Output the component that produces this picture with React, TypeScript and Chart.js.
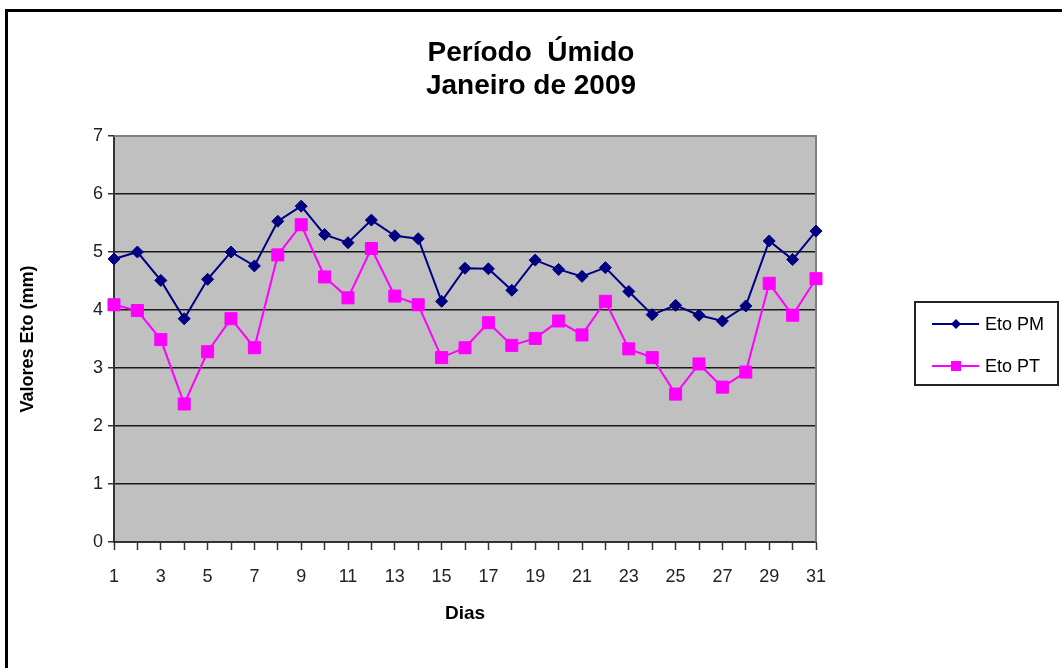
import React, { useEffect, useRef } from 'react';
import { Chart, registerables } from 'chart.js';

Chart.register(...registerables);

const FONT = "'Liberation Sans', Arial, sans-serif";

const days = [
  '1', '2', '3', '4', '5', '6', '7', '8', '9', '10',
  '11', '12', '13', '14', '15', '16', '17', '18', '19', '20',
  '21', '22', '23', '24', '25', '26', '27', '28', '29', '30', '31',
];

const etoPM = [
  4.88, 5.0, 4.51, 3.85, 4.53, 5.0, 4.76, 5.53, 5.79, 5.3,
  5.16, 5.55, 5.28, 5.23, 4.15, 4.72, 4.71, 4.34, 4.86, 4.7,
  4.58, 4.73, 4.32, 3.92, 4.08, 3.91, 3.81, 4.07, 5.19, 4.87, 5.36,
];

const etoPT = [
  4.09, 3.99, 3.49, 2.38, 3.28, 3.85, 3.35, 4.95, 5.47, 4.57,
  4.21, 5.06, 4.24, 4.09, 3.18, 3.35, 3.78, 3.39, 3.51, 3.81,
  3.57, 4.15, 3.33, 3.18, 2.55, 3.07, 2.67, 2.93, 4.46, 3.91, 4.54,
];

const seriesNames = ['Eto PM', 'Eto PT'];
const seriesColors = ['#000080', '#ff00ff'];
const titleLines = ['Período  Úmido', 'Janeiro de 2009'];
const xTitle = 'Dias';
const yTitle = 'Valores Eto (mm)';
const yMin = 0;
const yMax = 7;

export default function App() {
  const ref = useRef<HTMLCanvasElement | null>(null);

  useEffect(() => {
    if (!ref.current) return;
    Chart.defaults.font.family = FONT;

    const framePlugin = {
      id: 'framePlugin',
      beforeDraw(chart: any) {
        const { ctx, chartArea } = chart;
        ctx.save();
        ctx.fillStyle = '#ffffff';
        ctx.fillRect(0, 0, chart.width, chart.height);
        ctx.fillStyle = '#000000';
        ctx.fillRect(5, 9, 3, chart.height - 9);
        ctx.fillRect(5, 9, chart.width - 5, 3);
        ctx.fillStyle = '#c0c0c0';
        ctx.fillRect(chartArea.left, chartArea.top, chartArea.right - chartArea.left, chartArea.bottom - chartArea.top);
        ctx.restore();
      },
      beforeDatasetsDraw(chart: any) {
        const { ctx, chartArea } = chart;
        ctx.save();
        ctx.strokeStyle = '#808080';
        ctx.lineWidth = 2;
        ctx.beginPath();
        ctx.moveTo(chartArea.left, chartArea.top);
        ctx.lineTo(chartArea.right, chartArea.top);
        ctx.lineTo(chartArea.right, chartArea.bottom);
        ctx.stroke();
        ctx.restore();
      },
      afterDraw(chart: any) {
        const { ctx } = chart;
        ctx.save();
        const bx = 915, by = 302, bw = 143, bh = 83;
        ctx.strokeStyle = '#222222';
        ctx.lineWidth = 2;
        ctx.strokeRect(bx, by, bw, bh);
        chart.data.datasets.forEach((ds: any, i: number) => {
          const y = 324 + i * 42;
          ctx.strokeStyle = ds.borderColor;
          ctx.fillStyle = ds.borderColor;
          ctx.lineWidth = 2;
          ctx.beginPath();
          ctx.moveTo(932, y);
          ctx.lineTo(979, y);
          ctx.stroke();
          const cx = 956;
          ctx.beginPath();
          if (ds.pointStyle === 'rectRot') {
            const r = 5;
            ctx.moveTo(cx - r, y);
            ctx.lineTo(cx, y - r);
            ctx.lineTo(cx + r, y);
            ctx.lineTo(cx, y + r);
            ctx.closePath();
          } else {
            ctx.rect(cx - 5, y - 5, 10, 10);
          }
          ctx.fill();
          ctx.fillStyle = '#000000';
          ctx.font = `18px ${FONT}`;
          ctx.textAlign = 'left';
          ctx.textBaseline = 'middle';
          ctx.fillText(ds.label, 985, y + 1);
        });
        ctx.restore();
      },
    };

    const chart = new Chart(ref.current, {
      type: 'line',
      data: {
        labels: days,
        datasets: [
          {
            label: seriesNames[0],
            data: etoPM,
            borderColor: seriesColors[0],
            backgroundColor: seriesColors[0],
            borderWidth: 2,
            pointStyle: 'rectRot',
            pointRadius: 6,
            pointBorderWidth: 1,
            pointBackgroundColor: seriesColors[0],
            pointBorderColor: seriesColors[0],
            tension: 0,
            clip: false,
          } as any,
          {
            label: seriesNames[1],
            data: etoPT,
            borderColor: seriesColors[1],
            backgroundColor: seriesColors[1],
            borderWidth: 2,
            pointStyle: 'rect',
            pointRadius: 8.5,
            pointBorderWidth: 1,
            pointBackgroundColor: seriesColors[1],
            pointBorderColor: seriesColors[1],
            tension: 0,
            clip: false,
          } as any,
        ],
      },
      options: {
        responsive: false,
        animation: false,
        devicePixelRatio: 1,
        layout: { padding: 0 },
        plugins: {
          legend: { display: false },
          tooltip: { enabled: false },
          title: {
            display: true,
            text: titleLines,
            color: '#000000',
            font: { size: 28, weight: 'bold', lineHeight: 1.2, family: FONT },
            padding: { top: 36, bottom: 32.8 },
          },
        },
        scales: {
          x: {
            type: 'category',
            offset: false,
            ticks: {
              autoSkip: false,
              maxRotation: 0,
              minRotation: 0,
              color: '#222222',
              font: { size: 18, family: FONT },
              padding: 16,
              callback: (_v: any, i: number) => (i % 2 === 0 ? days[i] : ''),
            },
            grid: {
              drawOnChartArea: false,
              tickLength: 8,
              tickColor: '#333333',
              tickWidth: 1.5,
              offset: false,
            },
            border: { color: '#333333', width: 2 },
            title: {
              display: true,
              text: xTitle,
              color: '#000000',
              font: { size: 19, weight: 'bold', family: FONT },
              padding: { top: 0, bottom: 42.6 },
            },
            afterFit: (s: any) => {
              s.height = 126;
            },
          } as any,
          y: {
            min: yMin,
            max: yMax,
            ticks: {
              stepSize: 1,
              color: '#222222',
              font: { size: 18, family: FONT },
              padding: 5,
            },
            grid: {
              color: (c: any) => (c.tick && c.tick.value === yMax ? 'rgba(0,0,0,0)' : '#1a1a1a'),
              lineWidth: 1.5,
              tickLength: 6,
              tickColor: '#333333',
              tickWidth: 1.5,
            },
            border: { color: '#333333', width: 2 },
            title: {
              display: true,
              text: yTitle,
              color: '#000000',
              font: { size: 18, weight: 'bold', family: FONT },
              padding: { top: 17, bottom: 0 },
            },
            afterFit: (s: any) => {
              s.width = 114;
            },
          } as any,
          legendSpace: {
            type: 'linear',
            position: 'right',
            display: true,
            ticks: { display: false },
            grid: { display: false, drawTicks: false },
            border: { display: false },
            title: { display: false },
            afterFit: (s: any) => {
              s.width = 246;
            },
          } as any,
        },
      },
      plugins: [framePlugin],
    });

    return () => {
      chart.destroy();
    };
  }, []);

  return (
    <div style={{ position: 'fixed', left: 0, top: 0, width: 1062, height: 668, background: '#ffffff' }}>
      <canvas ref={ref} width={1062} height={668} style={{ display: 'block', width: 1062, height: 668 }} />
    </div>
  );
}
